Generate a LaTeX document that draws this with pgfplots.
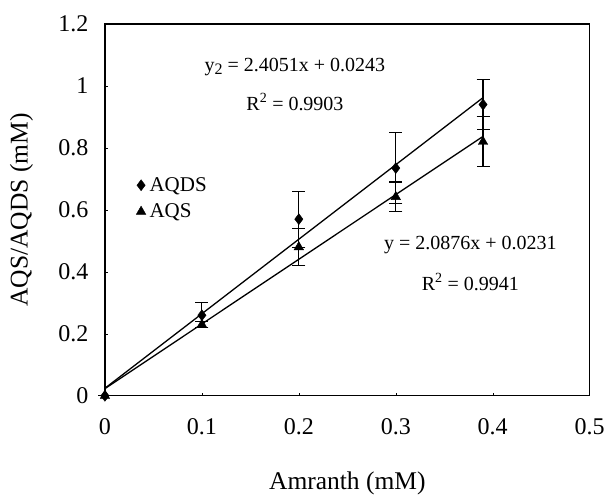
\documentclass[border=0pt]{standalone}
\usepackage{fontspec}
\setmainfont{Liberation Serif}
\usepackage{pgfplots}
\pgfplotsset{compat=1.18}

\pgfplotstableread{
x     y      e
0     0      0
0.1   0.26   0.04
0.2   0.57   0.09
0.3   0.735  0.115
0.39  0.94   0.08
}\aqds

\pgfplotstableread{
x     y      e
0     0      0
0.1   0.23   0.01
0.2   0.48   0.06
0.3   0.642  0.048
0.39  0.82   0.08
}\aqs

\begin{document}
\begin{tikzpicture}
\begin{axis}[
    name=ax,
    scale only axis,
    width=485pt, height=372pt,
    xmin=0, xmax=0.5, ymin=0, ymax=1.2,
    xtick={0,0.1,0.2,0.3,0.4,0.5},
    ytick={0,0.2,0.4,0.6,0.8,1,1.2},
    axis line style={line width=1.3pt},
    tick align=inside, major tick length=3pt,
    tick style={black, line width=0.4pt},
    xtick pos=bottom, ytick pos=left,
    /pgf/number format/assume math mode=true,
    ticklabel style={font=\fontsize{24}{24}\selectfont},
    xticklabel style={yshift=-19pt},
    yticklabel style={xshift=-13pt},
    xlabel={Amranth (mM)},
    ylabel={AQS/AQDS (mM)},
    label style={font=\fontsize{25.5}{25.5}\selectfont},
    xlabel style={at={(axis description cs:0.5,-0.235)}, anchor=center},
    ylabel style={at={(axis description cs:-0.172,0.5)}, anchor=center},
    legend style={draw=none, fill=none, at={(axis cs:0.031,0.637)}, anchor=west,
        font=\fontsize{21}{21}\selectfont, row sep=7pt, inner sep=0pt},
    legend cell align=left,
    legend image code/.code={\draw[mark repeat=2,mark phase=2,#1] plot coordinates {(0cm,0cm)(0.1cm,0cm)(0.2cm,0cm)};
        \path (-0.1cm,0cm) (0.32cm,0cm);},
    clip=false,
]
\addplot[black, only marks, mark=diamond*, mark size=5.5pt,
    error bars/.cd, y dir=both, y explicit,
    error bar style={line width=1.1pt, black},
    error mark options={rotate=90, mark size=6.5pt, line width=1.1pt, black}]
    table[x=x, y=y, y error=e] {\aqds};
\addlegendentry{AQDS}
\addplot[black, only marks, mark=triangle*, mark size=5.5pt,
    error bars/.cd, y dir=both, y explicit,
    error bar style={line width=1.1pt, black},
    error mark options={rotate=90, mark size=6.5pt, line width=1.1pt, black}]
    table[x=x, y=y, y error=e] {\aqs};
\addlegendentry{AQS}

% trendlines
\addplot[black, line width=1.3pt, forget plot] coordinates {(0,0.0243) (0.39,0.9623)};
\addplot[black, line width=1.3pt, forget plot] coordinates {(0,0.0231) (0.39,0.8373)};

\node[font=\fontsize{20}{20}\selectfont] at (axis cs:0.196,1.061)
    {y\raisebox{-0.3ex}{\fontsize{16}{16}\selectfont 2} = 2.4051x + 0.0243};
\node[font=\fontsize{20}{20}\selectfont] at (axis cs:0.196,0.948)
    {R\textsuperscript{2} = 0.9903};
\node[font=\fontsize{20}{20}\selectfont] at (axis cs:0.377,0.487)
    {y = 2.0876x + 0.0231};
\node[font=\fontsize{20}{20}\selectfont] at (axis cs:0.377,0.368)
    {R\textsuperscript{2} = 0.9941};
\end{axis}
\path ([xshift=-105pt,yshift=-101pt]ax.south west) rectangle ([xshift=18pt,yshift=24pt]ax.north east);
\end{tikzpicture}
\end{document}
